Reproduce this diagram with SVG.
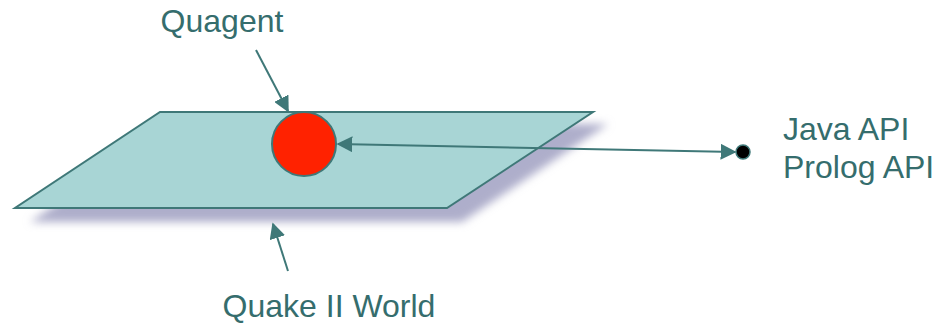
<svg xmlns="http://www.w3.org/2000/svg" width="936" height="323" viewBox="0 0 936 323">
<style>
.t{font-family:"Liberation Sans",Arial,sans-serif;font-size:32px;fill:#356d6d}
.c{stroke:#3f7878;stroke-width:2;fill:none}
</style>
<defs>
<filter id="blur" x="-20%" y="-50%" width="140%" height="200%"><feGaussianBlur stdDeviation="4"/></filter>
<marker id="ahs" viewBox="0 0 10 10" refX="9" refY="5" markerWidth="16" markerHeight="16" markerUnits="userSpaceOnUse" orient="auto-start-reverse"><path d="M0,0 L10,5 L0,10 z" fill="#3f7878"/></marker>
</defs>
<g id="world">
<polygon points="174,124 608,124 462,222 30,222" fill="#aeaecb" filter="url(#blur)"/>
<polygon points="160,112 593,112 447,208 15,208" fill="#a8d5d5" stroke="#3f7878" stroke-width="2"/>
</g>
<g id="quagent">
<ellipse cx="304" cy="144" rx="32" ry="32" fill="#ff2200" stroke="#3f7878" stroke-width="2"/>
</g>
<g id="api">
<circle cx="743" cy="152" r="7" fill="#000" stroke="#3f7878" stroke-width="1.5"/>
</g>
<g id="connectors">
<line class="c" x1="735" y1="152" x2="338" y2="144" marker-start="url(#ahs)" marker-end="url(#ahs)"/>
<line class="c" x1="256" y1="50" x2="288" y2="111" marker-end="url(#ahs)"/>
<line class="c" x1="288" y1="271" x2="273" y2="224" marker-end="url(#ahs)"/>
</g>
<g id="labels">
<text class="t" x="222" y="32" text-anchor="middle">Quagent</text>
<text class="t" x="329" y="317" text-anchor="middle">Quake II World</text>
<text class="t" x="783" y="140">Java API</text>
<text class="t" x="783" y="178">Prolog API</text>
</g>
</svg>
